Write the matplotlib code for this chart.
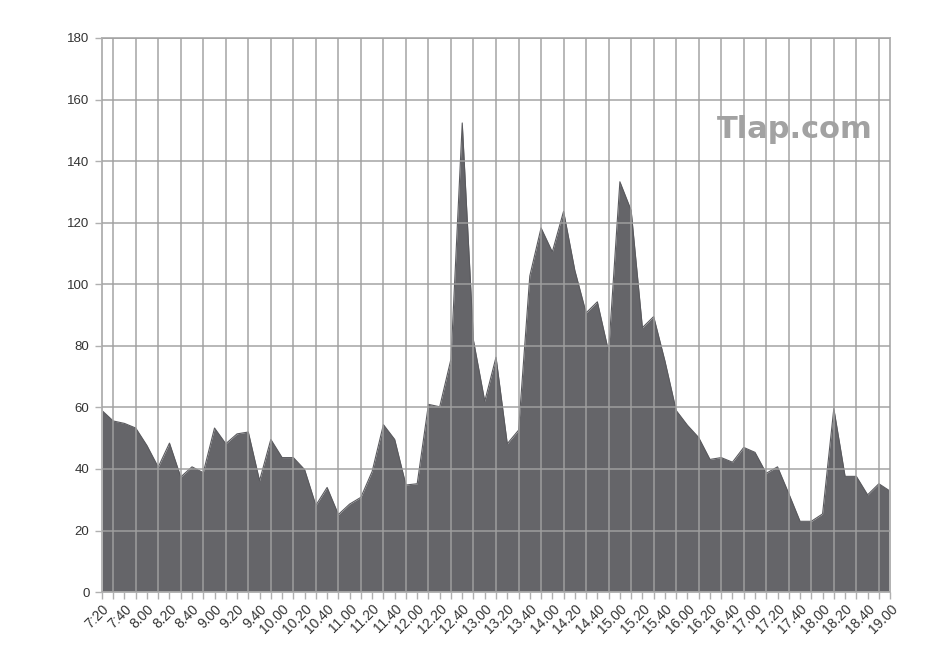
import numpy as np
import matplotlib
matplotlib.use('Agg')
import matplotlib.pyplot as plt

# readings every 10 minutes from 7:20 to 19:00
values = [59, 55.6, 54.8, 53.3, 47.6, 40.6, 48.4, 37.4, 40.7, 38.8,
          53.3, 48.2, 51.4, 52.0, 36.2, 49.6, 43.7, 43.7, 39.8, 28.2,
          34.0, 25.2, 28.6, 30.8, 39.2, 54.4, 49.6, 34.8, 35.2, 61.0,
          60.2, 75.7, 152.4, 81.7, 62.0, 76.3, 48.2, 52.6, 102.7, 118.3,
          110.5, 123.7, 104.5, 90.7, 94.3, 78.1, 133.3, 124.0, 85.9, 89.5,
          75.1, 59.0, 54.2, 50.2, 43.1, 43.7, 42.2, 47.0, 45.4, 38.6,
          40.7, 32.0, 23.0, 23.0, 25.4, 59.6, 37.6, 37.6, 31.6, 35.2,
          32.8]

# x labels every 20 minutes
tick_labels = ['7:20', '7:40', '8.00', '8.20', '8.40', '9.00', '9.20', '9.40',
               '10.00', '10.20', '10.40', '11.00', '11.20', '11.40', '12.00',
               '12.20', '12.40', '13.00', '13.20', '13.40', '14.00', '14.20',
               '14.40', '15.00', '15.20', '15.40', '16.00', '16.20', '16.40',
               '17.00', '17.20', '17.40', '18.00', '18.20', '18.40', '19.00']

y_ticks = [0, 20, 40, 60, 80, 100, 120, 140, 160, 180]

plt.rcParams['font.family'] = ['Liberation Sans', 'DejaVu Sans']

fig = plt.figure(figsize=(9.35, 6.55), dpi=100)
ax = fig.add_axes([0.109, 0.096, 0.843, 0.846])

x = np.arange(len(values))
ax.fill_between(x, values, 0, color='#656569', linewidth=0, zorder=1)
ax.plot(x, values, color='#5a5a5e', linewidth=0.8, zorder=1)

ax.set_xlim(0, len(values) - 1)
ax.set_ylim(0, 180)

ax.set_xticks(x[::2])
ax.set_xticklabels(tick_labels, rotation=45, ha='right', rotation_mode='anchor',
                   fontsize=10, color='#333333')
ax.set_xticks(x, minor=True)
ax.set_yticks(y_ticks)
ax.set_yticklabels([str(v) for v in y_ticks], fontsize=9.5, color='#333333')

ax.tick_params(axis='x', which='both', length=5, color='#b0b0b0', width=1, pad=2)
ax.tick_params(axis='y', length=5, color='#b0b0b0', width=1, pad=4)

# grid on top of the area, a bit see-through
ax.grid(True, axis='x', which='minor', color='#a0a0a0', linewidth=1.4, alpha=0.75, zorder=3)
ax.grid(True, axis='y', which='major', color='#a0a0a0', linewidth=1.4, alpha=0.75, zorder=3)
ax.set_axisbelow(False)

for s in ax.spines.values():
    s.set_color('#b4b4b4')
    s.set_linewidth(1.4)

# watermark
ax.text(0.879, 0.834, 'Tlap.com', transform=ax.transAxes, ha='center', va='center',
        fontsize=22, fontweight='bold', color='#a2a2a2', family='DejaVu Sans', zorder=4)

fig.savefig('out.png', dpi=100)
